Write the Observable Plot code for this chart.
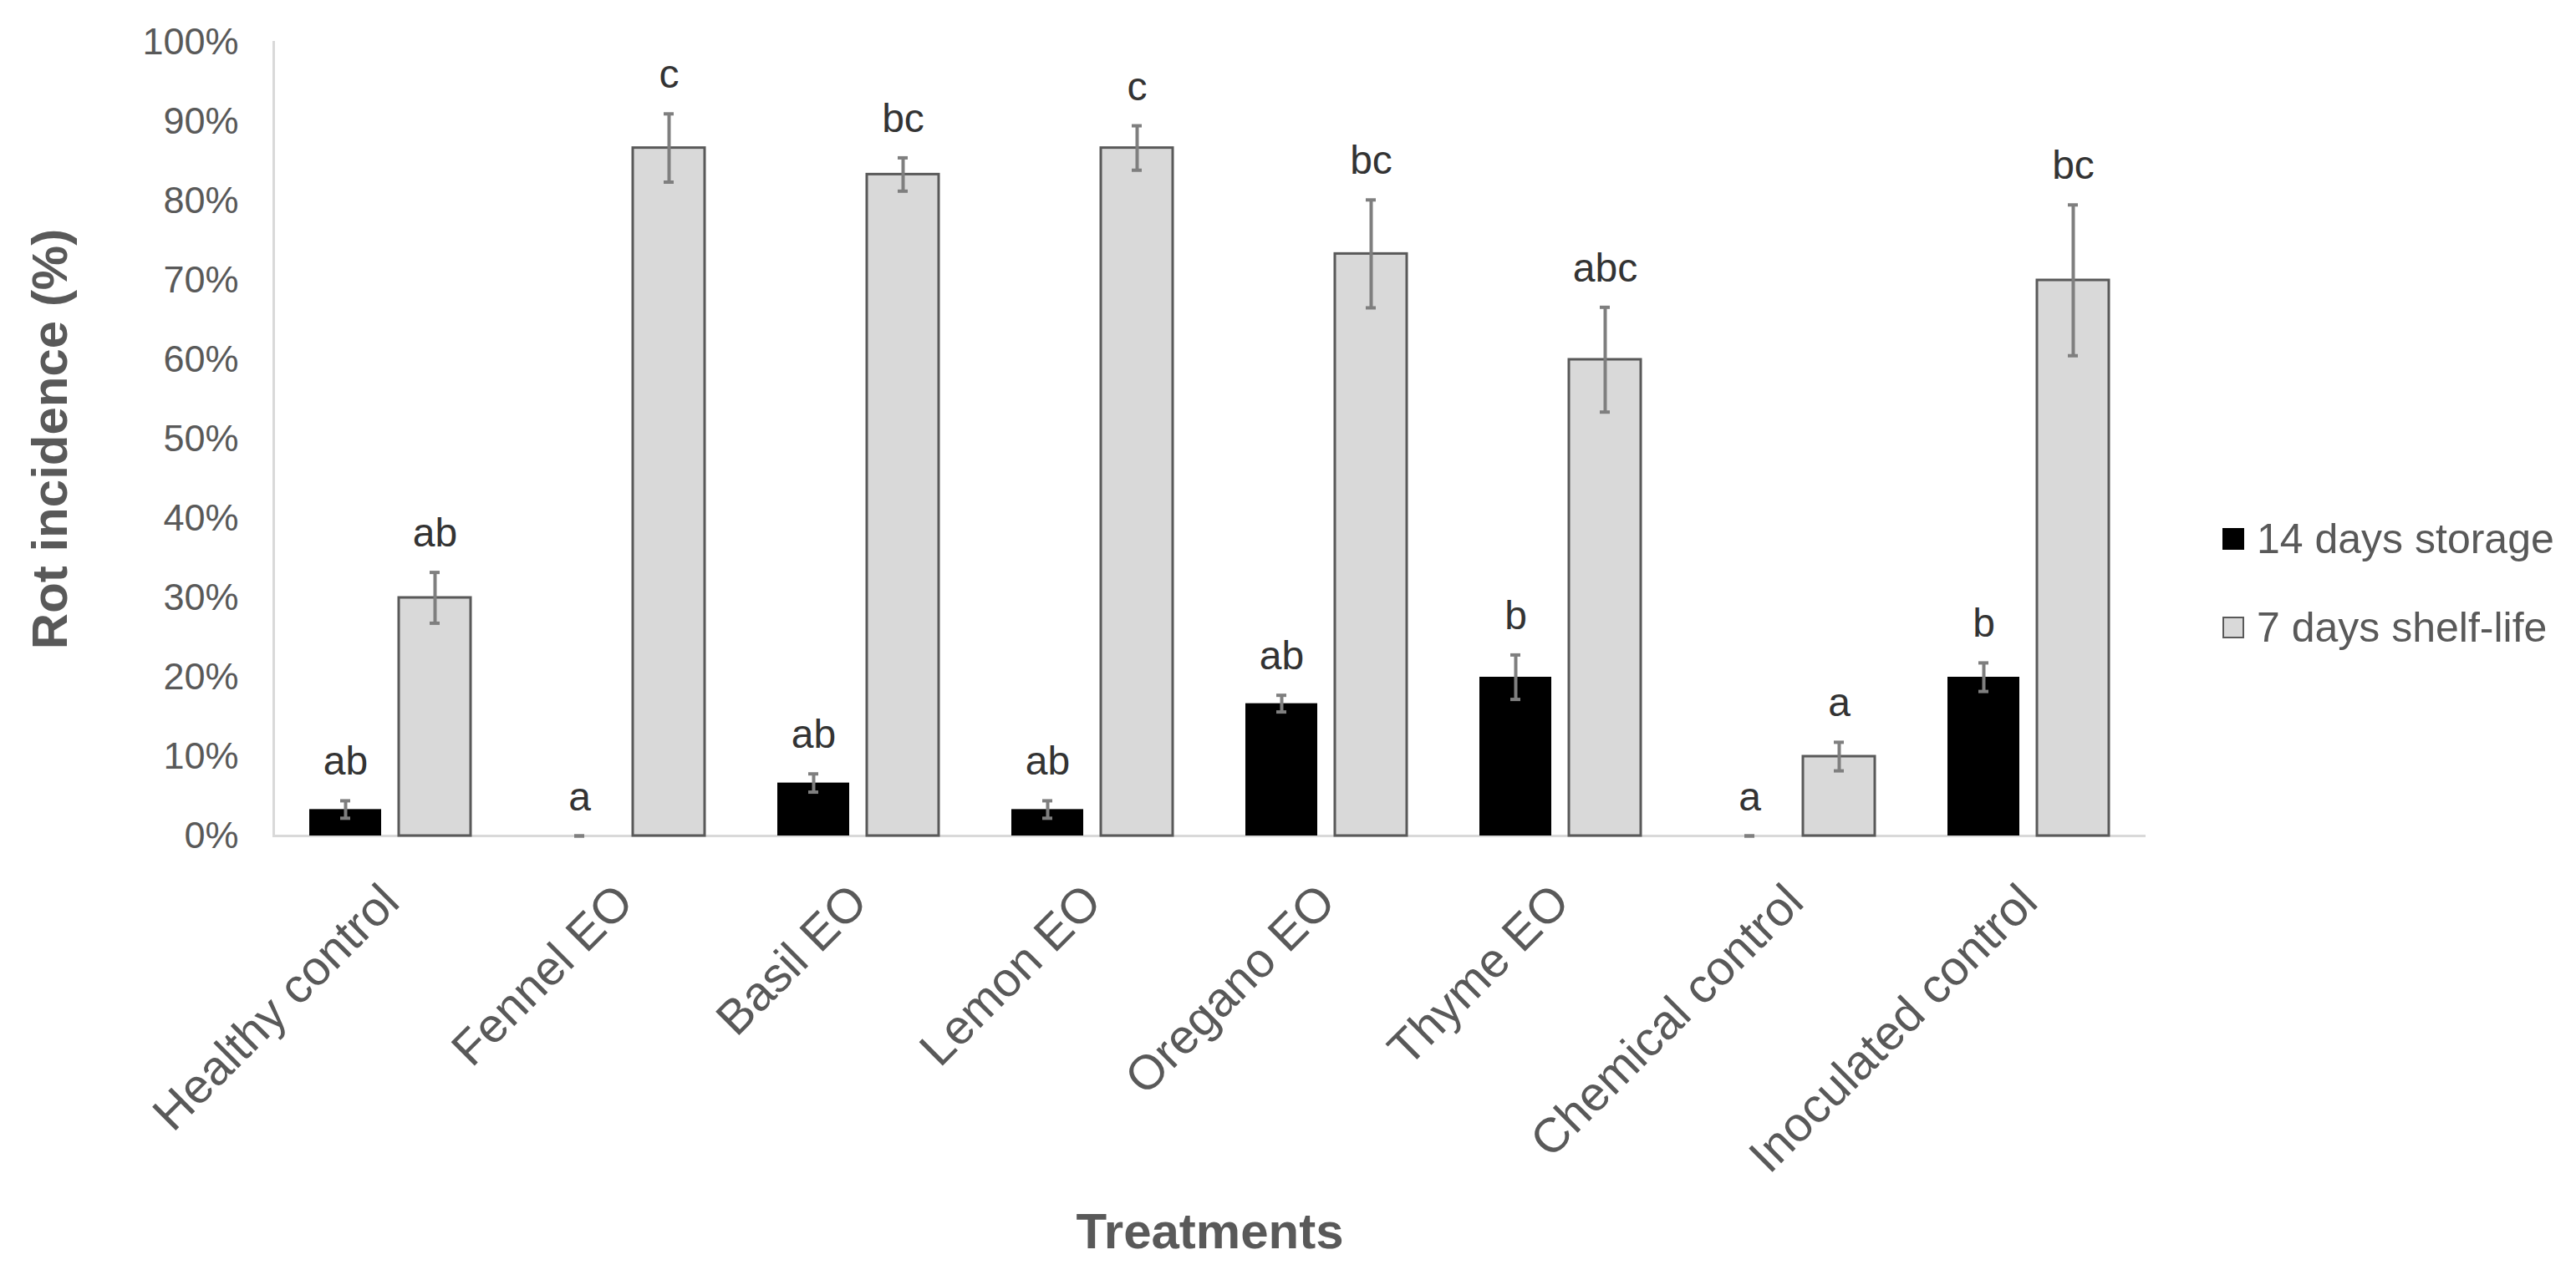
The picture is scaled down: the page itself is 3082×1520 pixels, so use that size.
<!DOCTYPE html>
<html>
<head>
<meta charset="utf-8">
<script src="https://cdn.jsdelivr.net/npm/d3@7"></script>
<script src="https://cdn.jsdelivr.net/npm/@observablehq/plot@0.6"></script>
<style>
  html, body { margin: 0; padding: 0; background: #ffffff; }
  #wrap { position: relative; width: 3082px; height: 1520px; font-family: "Liberation Sans", Arial, sans-serif; }
  #legend { position: absolute; left: 2659px; top: 614px; color: #595959; font-size: 50px; }
  .item { display: flex; align-items: center; height: 62px; margin-bottom: 44px; white-space: nowrap; }
  .sw { width: 26px; height: 26px; box-sizing: border-box; margin-right: 15px; }
</style>
</head>
<body>
<div id="wrap"></div>
<script>
// ---- data ----
const categories = ["Healthy control", "Fennel EO", "Basil EO", "Lemon EO", "Oregano EO", "Thyme EO", "Chemical control", "Inoculated control"];
const seriesNames = ["14 days storage", "7 days shelf-life"];
const storageValues = [3.33, 0, 6.67, 3.33, 16.67, 20, 0, 20];
const storageErrors = [1.1, 0, 1.15, 1.1, 1.05, 2.8, 0, 1.8];
const storageLetters = ["ab", "a", "ab", "ab", "ab", "b", "a", "b"];
const shelfValues = [30, 86.67, 83.33, 86.67, 73.33, 60, 10, 70];
const shelfErrors = [3.2, 4.3, 2.1, 2.8, 6.8, 6.6, 1.8, 9.5];
const shelfLetters = ["ab", "c", "bc", "c", "bc", "abc", "a", "bc"];
const yTicks = [0, 10, 20, 30, 40, 50, 60, 70, 80, 90, 100];
const yTitle = "Rot incidence (%)";
const xTitle = "Treatments";
const seriesFill = ["#000000", "#d9d9d9"];

// ---- table built from the arrays ----
const rows = [];
categories.forEach((c, i) => {
  rows.push({category: c, series: seriesNames[0], value: storageValues[i], err: storageErrors[i], letter: storageLetters[i]});
  rows.push({category: c, series: seriesNames[1], value: shelfValues[i], err: shelfErrors[i], letter: shelfLetters[i]});
});
const storageRows = rows.filter(d => d.series === seriesNames[0]);
const shelfRows = rows.filter(d => d.series === seriesNames[1]);

const chart = Plot.plot({
  width: 3082,
  height: 1520,
  marginLeft: 327,
  marginRight: 515,
  marginTop: 50,
  marginBottom: 520,
  style: {fontFamily: "Liberation Sans, Arial, sans-serif", background: "#ffffff", overflow: "visible"},
  fx: {domain: categories, padding: 0, label: null},
  x: {domain: seriesNames, paddingInner: 0.195, paddingOuter: 0.394, axis: null},
  y: {domain: [0, 100], label: null},
  color: {domain: seriesNames, range: seriesFill},
  marks: [
    Plot.axisY({ticks: yTicks, tickFormat: d => d + "%", tickSize: 0, tickPadding: 42, fontSize: 45, color: "#595959", label: null}),
    Plot.axisFx({anchor: "bottom", tickRotate: -45, tickSize: 0, tickPadding: 69, fontSize: 58, color: "#595959", label: null}),
    Plot.frame({anchor: "left", facetAnchor: "left", stroke: "#d9d9d9", strokeWidth: 3}),
    Plot.ruleY([0], {stroke: "#d9d9d9", strokeWidth: 3}),
    Plot.barY(storageRows, {fx: "category", x: "series", y: "value", fill: "series"}),
    Plot.barY(shelfRows, {fx: "category", x: "series", y: "value", fill: "series", stroke: "#595959", strokeWidth: 3}),
    Plot.ruleX(rows, {fx: "category", x: "series", y1: d => d.value - d.err, y2: d => d.value + d.err, stroke: "#7f7f7f", strokeWidth: 4}),
    Plot.tickY(rows, {fx: "category", x: "series", y: d => d.value + d.err, stroke: "#7f7f7f", strokeWidth: 4, insetLeft: 37, insetRight: 37}),
    Plot.tickY(rows, {fx: "category", x: "series", y: d => Math.max(0, d.value - d.err), stroke: "#7f7f7f", strokeWidth: 4, insetLeft: 37, insetRight: 37}),
    Plot.text(rows, {fx: "category", x: "series", y: d => d.value + d.err, text: "letter", dy: -31, lineAnchor: "bottom", fontSize: 48, fill: "#333333"}),
    Plot.text([{c: categories[0], t: yTitle}], {fx: "c", text: "t", frameAnchor: "left", rotate: -90, dx: -267, fontSize: 60, fontWeight: "bold", fill: "#595959", textAnchor: "middle"}),
    Plot.text([{c: categories[3], t: xTitle}], {fx: "c", text: "t", frameAnchor: "bottom-right", dy: 493, lineAnchor: "bottom", textAnchor: "middle", fontSize: 60, fontWeight: "bold", fill: "#595959"})
  ]
});

const wrap = document.getElementById("wrap");
wrap.appendChild(chart);

// legend (HTML, beside the plot)
const legend = document.createElement("div");
legend.id = "legend";
seriesNames.forEach((name, i) => {
  const item = document.createElement("div");
  item.className = "item";
  const sw = document.createElement("div");
  sw.className = "sw";
  sw.style.background = seriesFill[i];
  if (i === 1) sw.style.border = "2px solid #595959";
  const label = document.createElement("span");
  label.textContent = name;
  item.appendChild(sw);
  item.appendChild(label);
  legend.appendChild(item);
});
wrap.appendChild(legend);
</script>
</body>
</html>
